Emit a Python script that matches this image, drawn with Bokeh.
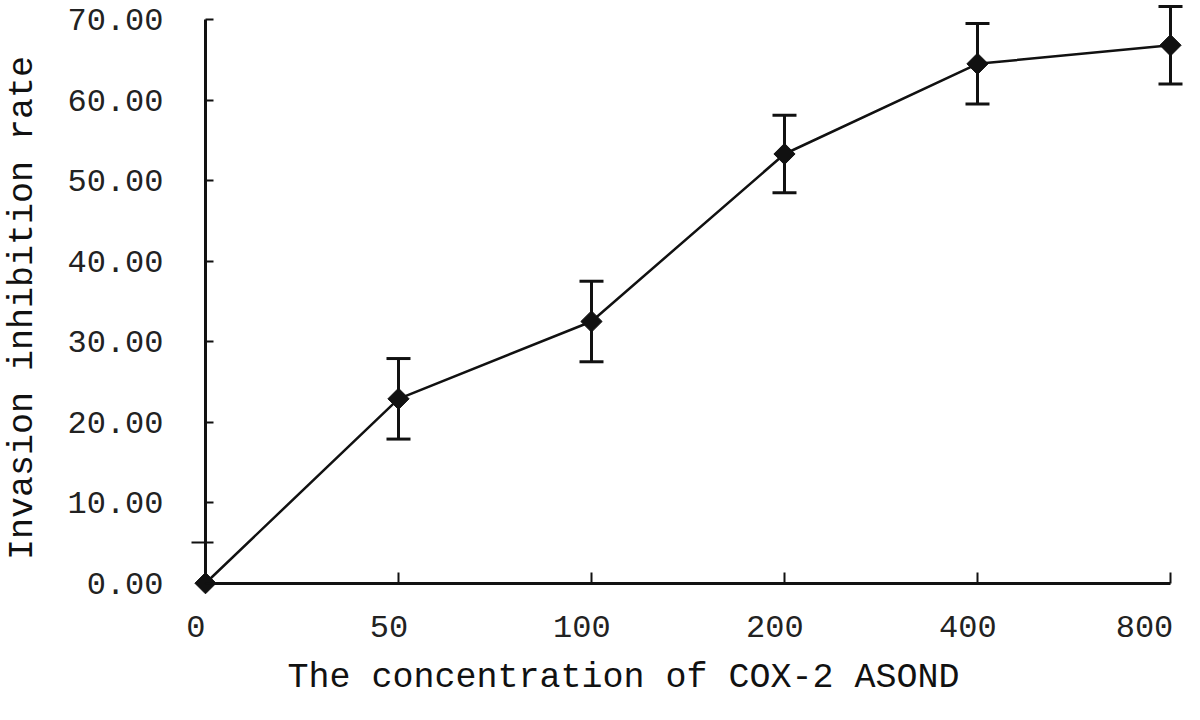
import math
from bokeh.plotting import figure
from bokeh.models import (Range1d, ColumnDataSource, Whisker, TeeHead, FixedTicker,
                          LinearAxis, Title)
from bokeh.embed import file_html
from bokeh.resources import INLINE

# ---- data ----
concentrations = ["0", "50", "100", "200", "400", "800"]
inhibition_rate = [0.0, 22.9, 32.5, 53.3, 64.5, 66.8]
error = [0.0, 5.0, 5.0, 4.8, 5.0, 4.8]
y_ticks = [0, 10, 20, 30, 40, 50, 60, 70]
y_odd_tick = [5]

FONT = "Liberation Mono"
INK = "#111111"
TXT = "#222222"

xs = list(range(len(concentrations)))
x_tick_labels = {i: c + "\u00a0" for i, c in enumerate(concentrations)}

p = figure(width=1192, height=704,
           x_range=Range1d(-0.0725, 5.114), y_range=Range1d(-1.4, 72.36),
           output_backend="svg", toolbar_location=None,
           min_border_left=191, min_border_right=0, min_border_top=0, min_border_bottom=110)

p.outline_line_color = None
p.grid.visible = False
p.background_fill_color = "white"
p.border_fill_color = "white"

# ---- series ----
p.line(xs, inhibition_rate, line_color=INK, line_width=2.5)

wx = [x for x, e in zip(xs, error) if e > 0]
wl = [v - e for v, e in zip(inhibition_rate, error) if e > 0]
wu = [v + e for v, e in zip(inhibition_rate, error) if e > 0]
wsrc = ColumnDataSource(data=dict(x=wx, lower=wl, upper=wu))
w = Whisker(base="x", lower="lower", upper="upper", source=wsrc, dimension="height",
            line_color=INK, line_width=3,
            upper_head=TeeHead(size=24, line_width=3, line_color=INK),
            lower_head=TeeHead(size=24, line_width=3, line_color=INK))
p.add_layout(w)

p.scatter(xs, inhibition_rate, marker="square", angle=math.pi / 4, size=15,
          fill_color=INK, line_color=INK)

# ---- label axes at the frame edges (text only) ----
xa = p.xaxis[0]
xa.ticker = FixedTicker(ticks=xs)
xa.major_label_overrides = x_tick_labels
xa.axis_line_color = None
xa.major_tick_line_color = None
xa.minor_tick_line_color = None
xa.major_tick_in = 0
xa.major_tick_out = 0
xa.major_label_text_font = FONT
xa.major_label_text_font_size = "32px"
xa.major_label_text_color = TXT
xa.major_label_standoff = 15

ya = p.yaxis[0]
ya.ticker = FixedTicker(ticks=y_ticks)
ya.major_label_overrides = {t: f"{t:.2f}" for t in y_ticks}
ya.axis_line_color = None
ya.major_tick_line_color = None
ya.minor_tick_line_color = None
ya.major_tick_in = 0
ya.major_tick_out = 0
ya.major_label_text_font = FONT
ya.major_label_text_font_size = "32px"
ya.major_label_text_color = TXT
ya.major_label_standoff = 28
ya.axis_label = "Invasion inhibition rate\u00a0"
ya.axis_label_text_font = FONT
ya.axis_label_text_font_size = "35px"
ya.axis_label_text_font_style = "normal"
ya.axis_label_text_color = INK
ya.axis_label_standoff = 21

xtitle = Title(text="The concentration of COX-2 ASOND", align="left", offset=96,
               text_font=FONT, text_font_size="35px", text_font_style="normal",
               text_color=INK, standoff=12)
p.add_layout(xtitle, "below")

# ---- axis lines and ticks crossing at zero ----
xline = LinearAxis(fixed_location=0, bounds=(0, 5), ticker=FixedTicker(ticks=xs),
                   axis_line_width=3, axis_line_color=INK,
                   major_tick_line_color=INK, major_tick_line_width=2,
                   major_tick_in=11, major_tick_out=0,
                   minor_tick_line_color=None,
                   major_label_text_color=None, major_label_text_font_size="1px",
                   major_label_standoff=0)
p.add_layout(xline, "below")

yline = LinearAxis(fixed_location=0, bounds=(0, 70),
                   ticker=FixedTicker(ticks=y_ticks, minor_ticks=y_odd_tick),
                   axis_line_width=3, axis_line_color=INK,
                   major_tick_line_color=INK, major_tick_line_width=2,
                   major_tick_in=8, major_tick_out=0,
                   minor_tick_line_color=INK, minor_tick_line_width=2,
                   minor_tick_in=8, minor_tick_out=17,
                   major_label_text_color=None, major_label_text_font_size="1px",
                   major_label_standoff=0)
p.add_layout(yline, "left")

open("out.html", "w").write(file_html(p, INLINE))
